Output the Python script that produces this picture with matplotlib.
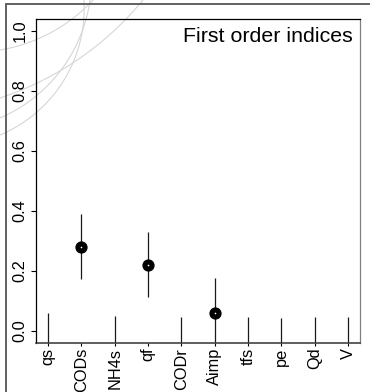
import numpy as np
import matplotlib
matplotlib.use("Agg")
import matplotlib.pyplot as plt
from matplotlib.lines import Line2D
from matplotlib.patches import Rectangle

plt.rcParams['font.family'] = ['Liberation Sans', 'DejaVu Sans']

# ---- data ----
params = ["qs", "CODs", "NH4s", "qf", "CODr", "Aimp", "tfs", "pe", "Qd", "V"]
estimate = [-0.09, 0.281, -0.09, 0.221, -0.09, 0.059, -0.09, -0.09, -0.09, -0.09]
ci_low = [-0.2, 0.172, -0.2, 0.113, -0.2, -0.06, -0.2, -0.2, -0.2, -0.2]
ci_high = [0.059, 0.389, 0.049, 0.329, 0.046, 0.176, 0.046, 0.043, 0.046, 0.048]
yticks = [0.0, 0.2, 0.4, 0.6, 0.8, 1.0]
title = "First order indices"

W, H = 370, 392
fig = plt.figure(figsize=(W / 100, H / 100), dpi=100)

def px(x, y):
    return x / W, 1 - y / H

# decorative faint arcs (upper left)
def arc_through(p1, p2, p3, ext=25):
    (x1, y1), (x2, y2), (x3, y3) = p1, p2, p3
    A = np.array([[x2 - x1, y2 - y1], [x3 - x1, y3 - y1]], float)
    b = 0.5 * np.array([x2**2 - x1**2 + y2**2 - y1**2, x3**2 - x1**2 + y3**2 - y1**2])
    cx, cy = np.linalg.solve(A, b)
    r = np.hypot(x1 - cx, y1 - cy)
    a1 = np.degrees(np.arctan2(y1 - cy, x1 - cx))
    a2 = np.degrees(np.arctan2(y2 - cy, x2 - cx))
    a3 = np.degrees(np.arctan2(y3 - cy, x3 - cx))
    # unwrap so a1 -> a2 -> a3 monotonic
    def norm(a, ref):
        while a - ref > 180: a -= 360
        while a - ref < -180: a += 360
        return a
    a2 = norm(a2, a1); a3 = norm(a3, a2)
    s = 1 if a3 > a1 else -1
    t = np.radians(np.linspace(a1 - s * ext, a3 + s * ext, 200))
    return cx + r * np.cos(t), cy + r * np.sin(t)

arcs = [((93, 0), (40, 38), (0, 50)),
        ((143, 0), (100, 43), (0, 98)),
        ((90, 0), (68, 60), (0, 118)),
        ((84, 0), (72, 65), (0, 135))]
for p1, p2, p3 in arcs:
    xs, ys = arc_through(p1, p2, p3)
    fx, fy = px(xs, ys)
    fig.add_artist(Line2D(fx, fy, transform=fig.transFigure, color='#d6d6d6',
                          lw=0.8, zorder=0))

# outer frame
fx0, fy0 = px(6, 4)
fig.add_artist(Rectangle((fx0, -0.2), 1.5, fy0 + 0.2, transform=fig.transFigure,
                         fill=False, edgecolor='#555555', lw=1.3, zorder=1))

l, r_, t_, b_ = 36, 360, 19, 343
ax = fig.add_axes([l / W, 1 - b_ / H, (r_ - l) / W, (b_ - t_) / H])
ax.patch.set_alpha(0)

x = np.arange(1, len(params) + 1)
ax.vlines(x, ci_low, ci_high, color='#1a1a1a', lw=0.9, zorder=2)
ax.plot(x, estimate, 'o', color='black', ms=7.8, zorder=3)
ax.plot(x, estimate, 'o', color='white', ms=1.2, mew=0, zorder=4)

ax.set_xlim(1 - 0.36, len(params) + 0.36)
ax.set_ylim(-0.04, 1.04)
ax.set_xticks(x)
ax.set_xticklabels(params, rotation=90, fontsize=11.8)
ax.set_yticks(yticks)
ax.set_yticklabels([f"{v:.1f}" for v in yticks], rotation=90, va='center', fontsize=11.8)
ax.tick_params(axis='x', length=2.5, width=0.8, pad=1)
ax.tick_params(axis='y', length=3.3, width=0.8, pad=3)

for s in ['left', 'top']:
    ax.spines[s].set_color('black')
    ax.spines[s].set_linewidth(0.9)
ax.spines['right'].set_color('#808080')
ax.spines['right'].set_linewidth(0.9)
ax.spines['bottom'].set_color('#333333')
ax.spines['bottom'].set_linewidth(1.1)

ax.text((352.7 - l) / (r_ - l), (b_ - 42) / (b_ - t_), title, transform=ax.transAxes,
        ha='right', va='baseline', fontsize=15.4)

fig.savefig("out.png", dpi=100)
